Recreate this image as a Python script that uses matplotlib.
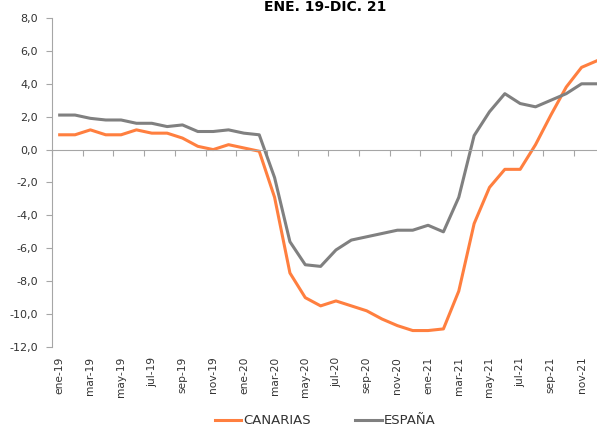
import matplotlib
matplotlib.use("Agg")
import matplotlib.pyplot as plt
from matplotlib.ticker import FixedLocator, FuncFormatter

months = ["ene-19","feb-19","mar-19","abr-19","may-19","jun-19","jul-19","ago-19","sep-19","oct-19","nov-19","dic-19",
          "ene-20","feb-20","mar-20","abr-20","may-20","jun-20","jul-20","ago-20","sep-20","oct-20","nov-20","dic-20",
          "ene-21","feb-21","mar-21","abr-21","may-21","jun-21","jul-21","ago-21","sep-21","oct-21","nov-21","dic-21"]
canarias = [0.9, 0.9, 1.2, 0.9, 0.9, 1.2, 1.0, 1.0, 0.7, 0.2, 0.0, 0.3,
            0.1, -0.1, -2.9, -7.5, -9.0, -9.5, -9.2, -9.5, -9.8, -10.3, -10.7, -11.0,
            -11.0, -10.9, -8.6, -4.5, -2.3, -1.2, -1.2, 0.3, 2.1, 3.8, 5.0, 5.4]
espana = [2.1, 2.1, 1.9, 1.8, 1.8, 1.6, 1.6, 1.4, 1.5, 1.1, 1.1, 1.2,
          1.0, 0.9, -1.7, -5.6, -7.0, -7.1, -6.1, -5.5, -5.3, -5.1, -4.9, -4.9,
          -4.6, -5.0, -2.9, 0.85, 2.3, 3.4, 2.8, 2.6, 3.0, 3.4, 4.0, 4.0]
title = "ENE. 19-DIC. 21"
yticks = [-12, -10, -8, -6, -4, -2, 0, 2, 4, 6, 8]

plt.rcParams['font.family'] = ['DejaVu Sans']
W, H = 597, 426
fig = plt.figure(figsize=(W/100, H/100), dpi=100)
left = 52 / W
bottom = (H - 347) / H
top = (H - 18) / H
step = 15.35
width = 36 * step / W
ax = fig.add_axes([left, bottom, width, top - bottom])

x = list(range(len(months)))
orange = "#FF7F3F"
gray = "#808080"
l1, = ax.plot(x, canarias, color=orange, lw=2.2, label="CANARIAS", solid_joinstyle="round")
l2, = ax.plot(x, espana, color=gray, lw=2.2, label="ESPAÑA", solid_joinstyle="round")

ax.set_xlim(-0.5, 35.5)
ax.set_ylim(-12, 8)

axis_col = "#A6A6A6"
txt_col = "#333333"
for s in ["top", "right"]:
    ax.spines[s].set_visible(False)
ax.spines["left"].set_color(axis_col)
ax.spines["bottom"].set_color(axis_col)
ax.spines["bottom"].set_position(("data", 0))

ax.set_yticks(yticks)
ax.yaxis.set_major_formatter(FuncFormatter(lambda v, p: f"{v:.1f}".replace(".", ",")))
ax.tick_params(axis="y", direction="out", length=4, color=axis_col, labelcolor=txt_col, labelsize=8, pad=6)

# tick marks at category boundaries on the zero line
ax.xaxis.set_major_locator(FixedLocator([b - 0.5 for b in range(0, 37, 2)]))
ax.tick_params(axis="x", which="major", direction="out", length=4, color=axis_col, labelbottom=False)

sec = ax.secondary_xaxis("bottom")
sec.set_xticks(x[::2])
sec.set_xticklabels(months[::2], rotation=90)
sec.tick_params(length=0, labelsize=7.7, labelcolor=txt_col, pad=7)
sec.spines["bottom"].set_visible(False)

fig.text(325 / W, 1 - 7 / H, title, ha="center", va="center", fontsize=10, fontweight="bold", color="black")

fig.legend(handles=[l1, l2], loc="center", bbox_to_anchor=(325 / W, 1 - 421 / H), ncol=2,
           frameon=False, fontsize=9.5, handlelength=2.0, handletextpad=0.15, columnspacing=3.4,
           labelcolor=txt_col)

fig.savefig("out.png", dpi=100)
